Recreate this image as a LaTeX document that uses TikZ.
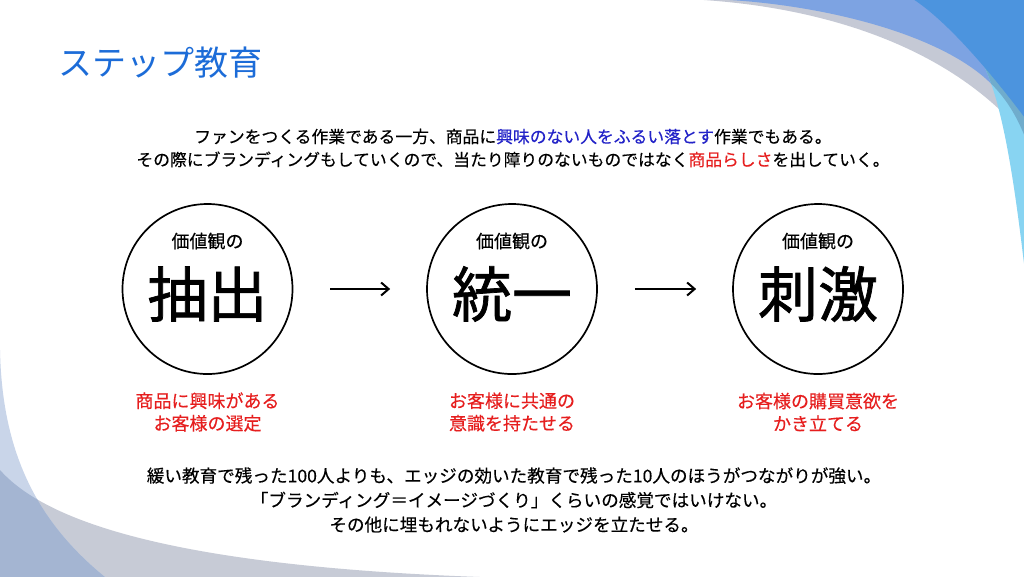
\documentclass[tikz,border=0pt]{standalone}
\usepackage{fontspec}
\setmainfont{Noto Sans CJK JP}
\newfontfamily\heavyjp[FakeBold=1.2]{Noto Sans CJK JP}
\newfontfamily\midjp[FakeBold=0.3]{Noto Sans CJK JP}
\usetikzlibrary{arrows.meta}
\definecolor{titleblue}{RGB}{28,108,216}
\definecolor{jpblue}{RGB}{35,35,200}
\definecolor{jpred}{RGB}{230,30,30}
\definecolor{trgray}{RGB}{197,201,213}
\definecolor{trperi}{RGB}{125,163,226}
\definecolor{trdark}{RGB}{76,148,222}
\definecolor{trcyan}{RGB}{136,212,242}
\definecolor{trteal}{RGB}{112,172,204}
\definecolor{bllight}{RGB}{201,213,233}
\definecolor{blgray}{RGB}{199,203,214}
\definecolor{bldark}{RGB}{164,181,210}
\tikzset{
  ring/.style={circle,draw,line width=1.7pt,minimum size=170pt,inner sep=0pt},
  small/.style={font=\midjp\fontsize{18}{22}\selectfont,inner sep=0pt},
  big/.style={font=\heavyjp\fontsize{60}{64}\selectfont,inner sep=0pt},
  redlabel/.style={align=center,text=jpred,font=\midjp\fontsize{18}{22.5}\selectfont,inner sep=0pt},
  flow/.style={line width=2pt,-{Straight Barb[length=7.5pt,width=13pt,line width=2pt]},shorten <=37pt,shorten >=36pt},
  para/.style={align=center,inner sep=0pt}
}
\begin{document}
\begin{tikzpicture}[x=1pt,y=-1pt]
\useasboundingbox (0,0) rectangle (1024,576);
\fill[white] (0,0) rectangle (1024,576);
% top-right decoration
\fill[trgray] (686,-1) .. controls (800,4) and (920,35) .. (1000,110) -- (1012,135) -- (1025,160) -- (1025,-1) -- cycle;
\fill[trperi] (708,-1) .. controls (810,2) and (930,30) .. (985,78) .. controls (1003,94) and (1015,112) .. (1025,137) -- (1025,-1) -- cycle;
\fill[trcyan] (975,50) .. controls (1000,85) and (1013,170) .. (1025,272) -- (1025,-1) -- cycle;
\begin{scope}
  \clip (708,-1) .. controls (810,2) and (930,30) .. (985,78) .. controls (1003,94) and (1015,112) .. (1025,137) -- (1025,-1) -- cycle;
  \fill[trteal] (975,50) .. controls (1000,85) and (1013,170) .. (1025,272) -- (1025,-1) -- cycle;
\end{scope}
\fill[trdark] (913,-1) .. controls (945,20) and (985,65) .. (1025,118) -- (1025,-1) -- cycle;
% bottom-left decoration
\fill[blgray] (0,470) .. controls (40,515) and (150,565) .. (480,577) -- (-1,577) -- cycle;
\fill[bllight] (-1,350) -- (0,350) .. controls (2,450) and (35,520) .. (105,577) -- (-1,577) -- cycle;
\begin{scope}
  \clip (0,470) .. controls (40,515) and (150,565) .. (480,577) -- (-1,577) -- cycle;
  \fill[bldark] (-1,350) -- (0,350) .. controls (2,450) and (35,520) .. (105,577) -- (-1,577) -- cycle;
\end{scope}
% title
\node[anchor=west,inner sep=0pt,text=titleblue,font=\fontsize{34}{40}\selectfont] (title) at (58,63) {ステップ教育};
% intro paragraph
\node[para,font=\midjp\fontsize{16.8}{23}\selectfont] (intro) at (513,148)
 {ファンをつくる作業である一方、商品に{\color{jpblue}興味のない人をふるい落とす}作業でもある。\\
  その際にブランディングもしていくので、当たり障りのないものではなく{\color{jpred}商品らしさ}を出していく。};
% circles
\node[ring] (c1) at (207.5,289) {};
\node[ring] (c2) at (512,289) {};
\node[ring] (c3) at (818,289) {};
\node[small] (s1) at (207.5,241) {価値観の};
\node[small] (s2) at (512,241) {価値観の};
\node[small] (s3) at (818,241) {価値観の};
\node[big] (b1) at (207.5,294) {抽出};
\node[big] (b2) at (512,294) {統一};
\node[big] (b3) at (818,294) {刺激};
% arrows
\draw[flow] (c1) -- (c2);
\draw[flow] (c2) -- (c3);
% red labels
\node[redlabel] (r1) at (207.5,412) {商品に興味がある\\お客様の選定};
\node[redlabel] (r2) at (512,412) {お客様に共通の\\意識を持たせる};
\node[redlabel] (r3) at (818,412) {お客様の購買意欲を\\かき立てる};
% closing paragraph
\node[para,font=\midjp\fontsize{17.6}{24.5}\selectfont] (outro) at (514,500)
 {緩い教育で残った100人よりも、エッジの効いた教育で残った10人のほうがつながりが強い。\\
  「ブランディング＝イメージづくり」くらいの感覚ではいけない。\\
  その他に埋もれないようにエッジを立たせる。};
\end{tikzpicture}
\end{document}
